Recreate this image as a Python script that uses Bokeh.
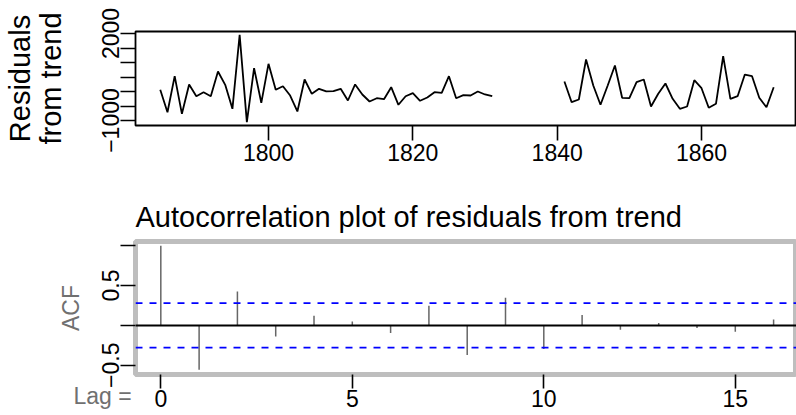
import numpy as np
from bokeh.plotting import figure
from bokeh.layouts import column
from bokeh.models import FixedTicker, Span, Range1d, Title
from bokeh.embed import file_html
from bokeh.resources import INLINE

FONT = "Liberation Sans"
TICK_FS = "23px"
TITLE_FS = "29px"

# ---- data: residuals from trend (two observed stretches) ----
years_a = list(range(1785, 1832))
resid_a = [60, -714, 528, -769, 242, -162, -24, -162, 690, 231, -596, 1955,
           -1058, 804, -389, 955, 59, 183, -138, -689, 414, -79, 93, 5,
           10, 93, -310, 242, -103, -345, -231, -265, 149, -458, -162, -58,
           -320, -207, -24, -45, 528, -231, -127, -138, 0, -103, -162]
years_b = list(range(1841, 1871))
resid_b = [345, -369, -276, 1104, 207, -458, 207, 897, -217, -231, 321, 414,
           -517, -79, 276, -253, -596, -517, 390, 114, -562, -424, 1217, -253,
           -162, 586, 528, -217, -541, 149]

year_ticks = [1800, 1820, 1840, 1860]
resid_ticks = [-1000, -500, 0, 500, 1000, 1500, 2000]
resid_tick_labels = {2000: "2000", -1000: "\u22121000"}

# ---- data: autocorrelation of residuals ----
lags = list(range(0, 17))
acf_vals = [1.0, -0.557, 0.425, -0.14, 0.12, 0.05, -0.095, 0.246, -0.37,
            0.346, -0.295, 0.13, -0.054, 0.03, -0.033, -0.079, 0.075]
acf_base = [0.0] * len(lags)
conf_limit = 0.28
lag_ticks = [0, 5, 10, 15]
acf_ticks = [-0.5, 0.0, 0.5, 1.0]
acf_tick_labels = {0.5: "0.5", -0.5: "\u22120.5"}


def style_axes(p):
    for ax in (p.xaxis[0], p.yaxis[0]):
        ax.axis_line_color = None
        ax.major_tick_in = 0
        ax.major_tick_line_color = "black"
        ax.major_tick_line_width = 1.6
        ax.minor_tick_line_color = None
        ax.major_label_text_font = FONT
        ax.major_label_text_font_size = TICK_FS
        ax.major_label_text_color = "black"
        ax.axis_label_text_font = FONT
        ax.axis_label_text_font_style = "normal"
    p.grid.visible = False
    p.background_fill_color = "white"
    p.border_fill_color = "white"


# ---- top panel ----
p1 = figure(width=796, height=187, output_backend="svg", toolbar_location=None,
            x_range=Range1d(1781.57, 1873.16), y_range=Range1d(-1172, 2069),
            min_border_left=135, min_border_right=0, min_border_top=31,
            min_border_bottom=62)
p1.line(years_a, resid_a, line_color="black", line_width=1.8)
p1.line(years_b, resid_b, line_color="black", line_width=1.8)
style_axes(p1)
p1.outline_line_color = "black"
p1.outline_line_width = 1.8
p1.outline_line_alpha = 1.0
p1.xaxis.ticker = FixedTicker(ticks=year_ticks)
p1.xaxis.major_tick_out = 15
p1.xaxis.major_label_standoff = 3
p1.yaxis.ticker = FixedTicker(ticks=resid_ticks)
p1.yaxis.major_label_overrides = {t: resid_tick_labels.get(t, "") for t in resid_ticks}
p1.yaxis.major_label_orientation = "vertical"
p1.yaxis.major_tick_out = 15
p1.yaxis.major_label_standoff = 1
p1.yaxis.axis_label = "Residuals\nfrom trend"
p1.yaxis.axis_label_text_font_size = TITLE_FS
p1.yaxis.axis_label_text_color = "black"
p1.yaxis.axis_label_standoff = 33
p1.yaxis.axis_label_text_line_height = 0.96

# ---- bottom panel (ACF) ----
p2 = figure(width=796, height=228, output_backend="svg", toolbar_location=None,
            x_range=Range1d(-0.661, 16.598), y_range=Range1d(-0.616, 1.0525),
            min_border_left=135, min_border_right=0, min_border_top=54,
            min_border_bottom=41,
            title="Autocorrelation plot of residuals from trend")
p2.title.text_font = FONT
p2.title.text_font_size = TITLE_FS
p2.title.text_font_style = "normal"
p2.title.text_color = "black"
p2.title.align = "left"
p2.title.standoff = 18
style_axes(p2)
p2.outline_line_color = "#bebebe"
p2.outline_line_width = 5
p2.outline_line_alpha = 1.0

p2.segment(x0=lags, y0=acf_base, x1=lags, y1=acf_vals,
           line_color="#666666", line_width=1.5)
p2.add_layout(Span(location=0, dimension="width", line_color="black", line_width=2))
for lim in (conf_limit, -conf_limit):
    p2.add_layout(Span(location=lim, dimension="width", line_color="#0000ff",
                       line_width=1.8, line_dash="7 7"))

p2.xaxis.ticker = FixedTicker(ticks=lag_ticks)
p2.xaxis.major_tick_out = 14
p2.xaxis.major_label_standoff = 1
p2.yaxis.ticker = FixedTicker(ticks=acf_ticks)
p2.yaxis.major_label_overrides = {t: acf_tick_labels.get(t, "") for t in acf_ticks}
p2.yaxis.major_label_orientation = "vertical"
p2.yaxis.major_tick_out = 15
p2.yaxis.major_label_standoff = 1
p2.yaxis.axis_label = "ACF"
p2.yaxis.axis_label_text_font_size = TICK_FS
p2.yaxis.axis_label_text_color = "#707070"
p2.yaxis.axis_label_standoff = 16

# "Lag =" caption on the row of the lag tick labels, left of the box
lag_title = Title(text="Lag =", align="left", vertical_align="top",
                  offset=-62, standoff=-54, text_font=FONT,
                  text_font_size=TICK_FS, text_font_style="normal",
                  text_color="#707070")
p2.add_layout(lag_title, "below")

layout = column(p1, p2, spacing=0)
open("out.html", "w").write(file_html(layout, INLINE))
